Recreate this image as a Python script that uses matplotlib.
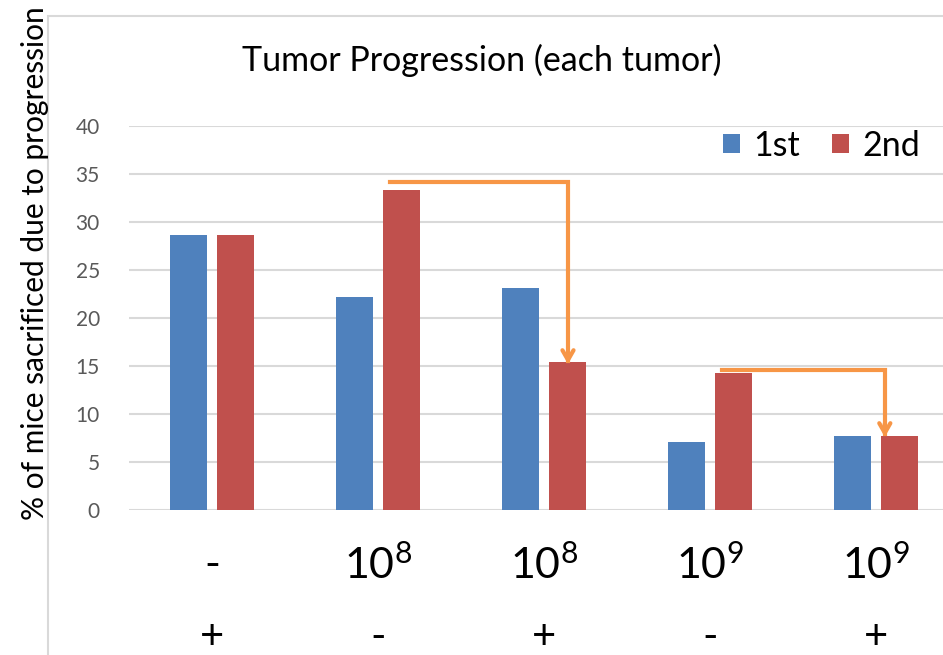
import matplotlib.pyplot as plt
import numpy as np
from matplotlib.patches import Rectangle

plt.rcParams['font.family'] = ['Lato', 'DejaVu Sans']
plt.rcParams['mathtext.fontset'] = 'custom'
plt.rcParams['mathtext.rm'] = 'Lato'

# Percent of mice sacrificed, per group, for the 1st and 2nd tumor
first = [28.6, 22.2, 23.1, 7.1, 7.7]
second = [28.6, 33.3, 15.4, 14.3, 7.7]
dose_labels = ['-', r'$\mathregular{10^8}$', r'$\mathregular{10^8}$',
               r'$\mathregular{10^9}$', r'$\mathregular{10^9}$']
treat_labels = ['+', '-', '+', '-', '+']
series_names = ['1st', '2nd']

BLUE = '#4F81BD'
RED = '#C0504D'
ORANGE = '#F79646'
GRID = '#D9D9D9'

fig = plt.figure(figsize=(9.43, 6.55), dpi=100)
ax = fig.add_axes([0.1368, 0.2214, 0.880, 0.5863])

x = np.arange(len(first))
w = 0.223
off = 0.1416
ax.bar(x - off, first, w, color=BLUE, label=series_names[0], zorder=2)
ax.bar(x + off, second, w, color=RED, label=series_names[1], zorder=2)

ax.set_xlim(-0.5, 4.5)
ax.set_ylim(0, 40)
ax.set_yticks(np.arange(0, 41, 5))
ax.yaxis.grid(True, color=GRID, linewidth=1.5, zorder=0)
ax.set_axisbelow(True)
for s in ax.spines.values():
    s.set_visible(False)
ax.set_xticks([])
ax.tick_params(axis='y', length=0, pad=21, labelsize=15, labelcolor='#595959')

# two rows of group labels under the bars
for i in range(len(x)):
    ax.text(i, -0.143, dose_labels[i], transform=ax.get_xaxis_transform(),
            ha='center', va='center', fontsize=31)
    ax.text(i, -0.33, treat_labels[i], transform=ax.get_xaxis_transform(),
            ha='center', va='center', fontsize=30)

fig.text(0.037, 0.598, '% of mice sacrificed due to progression', rotation=90,
         ha='center', va='center', fontsize=21.5)
fig.text(0.511, 0.908, 'Tumor Progression (each tumor)', ha='center',
         va='center', fontsize=24.5)

ax.legend(loc='upper right', bbox_to_anchor=(0.99, 1.07), ncol=2, frameon=False,
          fontsize=24.5, handlelength=0.5, handleheight=0.5, handletextpad=0.38,
          columnspacing=0.95)

# orange connector arrows between groups
def bracket(x0, x1, y_top, y_end):
    ax.plot([x0, x1, x1], [y_top, y_top, y_end + 0.6], color=ORANGE, lw=3,
            solid_joinstyle='miter', zorder=4)
    ax.annotate('', xy=(x1, y_end), xytext=(x1, y_end + 2),
                arrowprops=dict(arrowstyle='->,head_width=0.4,head_length=0.7',
                                color=ORANGE, lw=3), zorder=4)

bracket(1.07, 2.145, 34.2, 14.9)
bracket(3.07, 4.054, 14.6, 7.3)

# outer chart frame
fig.patches.append(Rectangle((48 / 943, -0.1), 1.0, 1.0 - 16 / 655 + 0.1,
                             transform=fig.transFigure, fill=False,
                             edgecolor=GRID, lw=1.5))

fig.savefig('out.png', dpi=100)
